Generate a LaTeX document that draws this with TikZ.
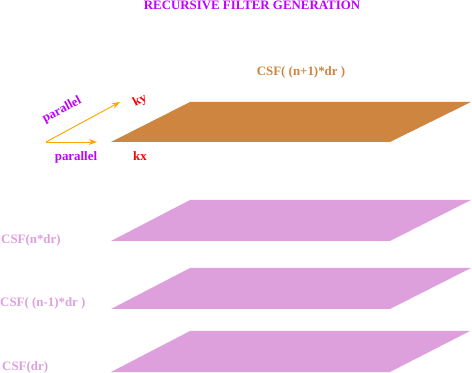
\documentclass[tikz,border=0pt]{standalone}
\usepackage{fontspec}
\setmainfont{Liberation Serif}
\usetikzlibrary{arrows.meta}

\definecolor{titlepurple}{RGB}{191,0,255}
\definecolor{planebrown}{RGB}{205,133,63}
\definecolor{planeplum}{RGB}{221,160,221}
\definecolor{arroworange}{RGB}{255,165,0}

\begin{document}
\begin{tikzpicture}[
    x=0.03cm, y=-0.03cm,
    lbl/.style={font=\fontsize{11}{13}\selectfont\bfseries, inner sep=0pt},
    csf/.style={lbl, text=planeplum, anchor=west},
    axis/.style={draw=arroworange, line width=0.8pt, -{Stealth[length=7pt,width=5pt]}}
]
    \useasboundingbox (0,0) rectangle (472,373);

    % Title
    \node[lbl, text=titlepurple] (title) at (252,5) {RECURSIVE FILTER GENERATION};

    % Top plane
    \fill[planebrown] (111,142) -- (190,102) -- (471,102) -- (390,142) -- cycle;
    \node[lbl, text=planebrown] (csftop) at (301,72) {CSF( (n+1)*dr )};

    % Lower planes
    \fill[planeplum] (111,241) -- (190,200) -- (471,200) -- (390,241) -- cycle;
    \fill[planeplum] (111,309) -- (190,268) -- (471,268) -- (390,309) -- cycle;
    \fill[planeplum] (111,372) -- (190,331) -- (470,331) -- (390,372) -- cycle;
    \node[csf] (csfn) at (1,240) {CSF(n*dr)};
    \node[csf] (csfnm) at (0,303) {CSF( (n-1)*dr )};
    \node[csf] (csfdr) at (2,367) {CSF(dr)};

    % Axes
    \coordinate (o) at (46,142);
    \coordinate (kxend) at (97,142);
    \coordinate (kyend) at (120,102);
    \draw[axis] (o) -- (kxend);
    \draw[axis] (o) -- (kyend);
    \node[lbl, text=titlepurple] (parx) at (76,157) {parallel};
    \node[lbl, text=titlepurple, rotate=28] (pary) at (62,110) {parallel};
    \node[lbl, text=red] (kx) at (140,156) {kx};
    \node[lbl, text=red, rotate=28] (ky) at (140,101) {ky};
\end{tikzpicture}
\end{document}
